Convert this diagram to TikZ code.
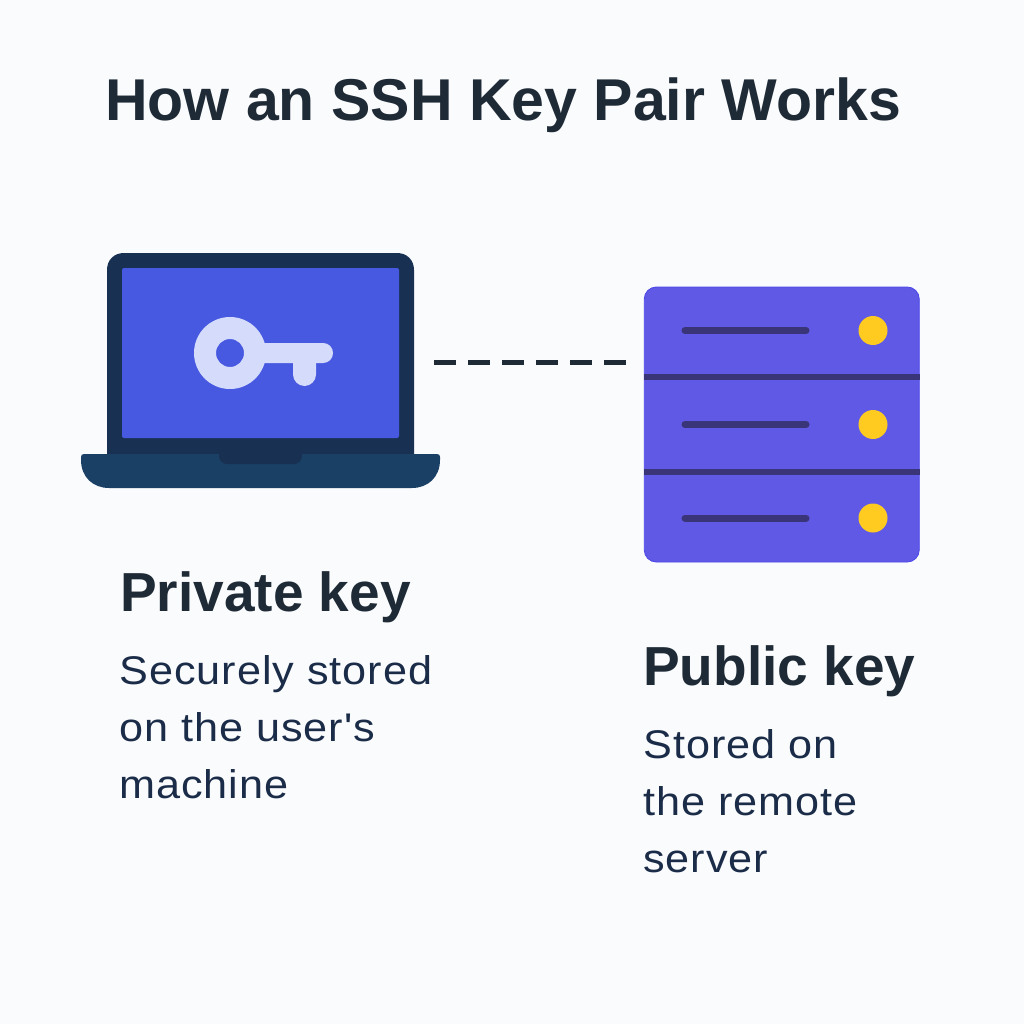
\documentclass[tikz,border=0pt]{standalone}
\usepackage{fontspec}
\setmainfont{Liberation Sans}
\newfontfamily\bodyfont{Liberation Sans}[Ligatures=TeXOff,FakeStretch=1.08,LetterSpace=2.5]
\usetikzlibrary{positioning}
\definecolor{pagebg}{HTML}{FAFBFD}
\definecolor{lidcol}{HTML}{183153}
\definecolor{basecol}{HTML}{1A4065}
\definecolor{screencol}{HTML}{4759E0}
\definecolor{keycol}{HTML}{D5DCFB}
\definecolor{servercol}{HTML}{5F59E6}
\definecolor{serveredge}{HTML}{4C46E8}
\definecolor{slotcol}{HTML}{3A3578}
\definecolor{ledcol}{HTML}{FFCB21}
\definecolor{titlecol}{HTML}{1E2A36}
\definecolor{bodycol}{HTML}{1B2C48}
\tikzset{
  heading/.style={anchor=base west,inner sep=0pt,text=titlecol,font=\fontsize{59}{59}\selectfont\bfseries},
  subhead/.style={anchor=base west,inner sep=0pt,text=titlecol,font=\fontsize{55}{55}\selectfont\bfseries},
  bodytext/.style={anchor=base west,inner sep=0pt,text=bodycol,font=\bodyfont\fontsize{40}{40}\selectfont},
  slot/.style={line width=7pt,slotcol,line cap=round},
  divider/.style={line width=6pt,slotcol},
  led/.style={circle,fill=ledcol,inner sep=0pt,minimum size=29pt},
  link/.style={line width=5pt,titlecol,dash pattern=on 22pt off 12pt}
}
\begin{document}
\begin{tikzpicture}[x=1pt,y=-1pt]
  \useasboundingbox[fill=pagebg] (0,0) rectangle (1024,1024);

  \node[heading] (title) at (105,121) {How an SSH Key Pair Works};

  % laptop
  \fill[lidcol] (107,455) -- (107,270) .. controls (107,260) and (114,253) .. (124,253)
    -- (397,253) .. controls (407,253) and (414,260) .. (414,270) -- (414,455) -- cycle;
  \fill[rounded corners=2pt,screencol] (122,268) rectangle (399,438);
  \fill[basecol] (81,457) .. controls (81,455) and (82,454) .. (84,454) -- (437,454)
    .. controls (439,454) and (440,455) .. (440,457) -- (440,460)
    .. controls (440,477) and (428,488) .. (412,488) -- (109,488)
    .. controls (93,488) and (81,477) .. (81,460) -- cycle;
  \fill[lidcol] (219,452) -- (302,452) -- (302,456) .. controls (302,461) and (298,464) .. (294,464)
    -- (227,464) .. controls (223,464) and (219,461) .. (219,456) -- cycle;

  % key
  \fill[keycol,even odd rule] (230,353) circle[radius=36] (230,353) circle[radius=14];
  \fill[keycol,rounded corners=9.9pt] (250,343) -- (333,343) -- (333,363) -- (250,363) -- cycle;
  \fill[keycol] (255,343) rectangle (320,363);
  \fill[keycol] (293,355) -- (316,355) -- (316,374.5) arc[start angle=0,end angle=180,radius=11.5] -- cycle;

  % server
  \node[fill=servercol,draw=serveredge,line width=.8pt,rounded corners=12pt,inner sep=0pt,minimum size=275pt] (server) at (781.75,424.5) {};
  \draw[divider] (server.west |- 0,377) -- (server.east |- 0,377);
  \draw[divider] (server.west |- 0,472) -- (server.east |- 0,472);
  \foreach \yy/\nm in {330.5/a,424.5/b,518/c} {
    \draw[slot] (685,\yy) -- (806,\yy);
    \node[led] (led\nm) at (873,\yy) {};
  }

  % link
  \coordinate (linkl) at (434,362);
  \coordinate (linkr) at (626,362);
  \draw[link] (linkl) -- (linkr);

  % texts
  \node[subhead] (privhead) at (120,611) {Private key};
  \node[bodytext] (privone) at (119,684) {Securely stored};
  \node[bodytext] (privtwo) at (119,741) {on the user's};
  \node[bodytext] (privthree) at (119,798) {machine};

  \node[subhead] (pubhead) at (643,685) {Public key};
  \node[bodytext] (pubone) at (643,758) {Stored on};
  \node[bodytext] (pubtwo) at (643,815) {the remote};
  \node[bodytext] (pubthree) at (643,872) {server};
\end{tikzpicture}
\end{document}
